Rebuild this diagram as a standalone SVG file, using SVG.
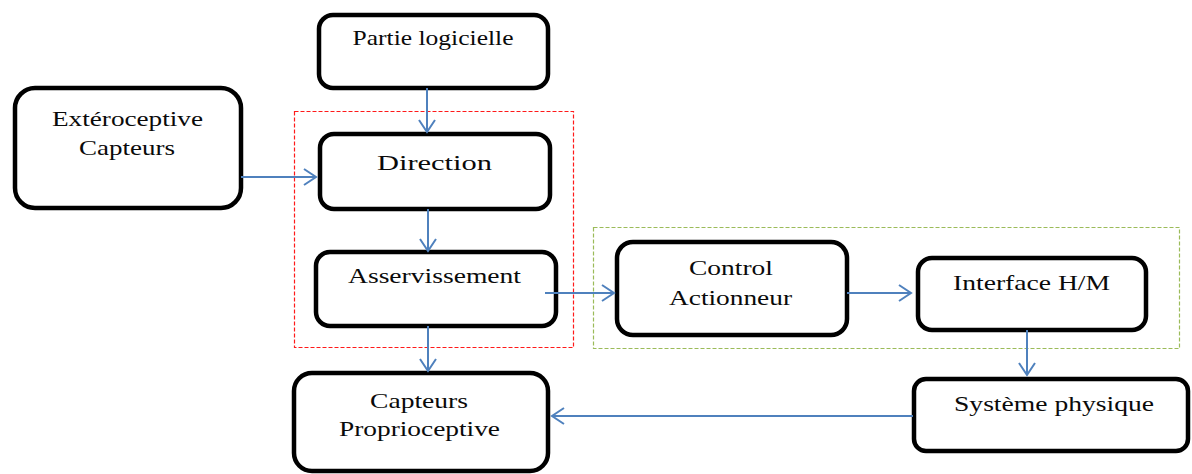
<svg xmlns="http://www.w3.org/2000/svg" width="1192" height="474" viewBox="0 0 1192 474">
<style>
.box{fill:#fff;stroke:#000;stroke-width:4.5}
.lbl{font-family:"Liberation Serif","Times New Roman",serif;font-size:22px;fill:#0a0a0a;text-anchor:middle}
.conn{stroke:#4f81bd;stroke-width:2;fill:none;marker-end:url(#arr)}
.grp-red{fill:none;stroke:#ff1a1a;stroke-width:1.2;stroke-dasharray:4,2}
.grp-green{fill:none;stroke:#9bbb59;stroke-width:1.2;stroke-dasharray:4,2}
</style>
<defs>
<marker id="arr" markerUnits="userSpaceOnUse" markerWidth="20" markerHeight="22" viewBox="-14 -11 16 22" refX="0" refY="0" orient="auto">
<path d="M-12,-8 L0,0 L-12,8" fill="none" stroke="#4f81bd" stroke-width="2"/>
</marker>
</defs>
<rect width="1192" height="474" fill="#fff"/>
<g id="groups">
<rect class="grp-red" x="294.5" y="111.5" width="279" height="236"/>
<rect class="grp-green" x="593.5" y="227.5" width="586" height="121"/>
</g>
<g id="partie">
<rect class="box" x="319" y="15" width="229" height="73" rx="14"/>
<text class="lbl" x="433" y="45" font-size="20" textLength="161" lengthAdjust="spacingAndGlyphs">Partie logicielle</text>
</g>
<g id="exteroceptive">
<rect class="box" x="15" y="88" width="226" height="120" rx="20"/>
<text class="lbl" x="127.5" y="126" textLength="151" lengthAdjust="spacingAndGlyphs">Extéroceptive</text>
<text class="lbl" x="127" y="155" textLength="96" lengthAdjust="spacingAndGlyphs">Capteurs</text>
</g>
<g id="direction">
<rect class="box" x="320" y="134" width="230" height="75" rx="14"/>
<text class="lbl" x="434.5" y="170" font-size="26" textLength="115" lengthAdjust="spacingAndGlyphs">Direction</text>
</g>
<g id="asservissement">
<rect class="box" x="316" y="252" width="240" height="74" rx="14"/>
<text class="lbl" x="434.5" y="283" textLength="173" lengthAdjust="spacingAndGlyphs">Asservissement</text>
</g>
<g id="control">
<rect class="box" x="617" y="242" width="230" height="93" rx="16"/>
<text class="lbl" x="731" y="275" textLength="84" lengthAdjust="spacingAndGlyphs">Control</text>
<text class="lbl" x="730.5" y="305" textLength="123" lengthAdjust="spacingAndGlyphs">Actionneur</text>
</g>
<g id="interface">
<rect class="box" x="918" y="258" width="228" height="72" rx="14"/>
<text class="lbl" x="1031.5" y="290" textLength="157" lengthAdjust="spacingAndGlyphs">Interface H/M</text>
</g>
<g id="systeme">
<rect class="box" x="914" y="379" width="274" height="72" rx="12"/>
<text class="lbl" x="1054" y="411" textLength="200" lengthAdjust="spacingAndGlyphs">Système physique</text>
</g>
<g id="proprioceptive">
<rect class="box" x="294" y="373" width="254" height="98" rx="18"/>
<text class="lbl" x="419" y="408" textLength="98" lengthAdjust="spacingAndGlyphs">Capteurs</text>
<text class="lbl" x="419.5" y="436" textLength="161" lengthAdjust="spacingAndGlyphs">Proprioceptive</text>
</g>
<g id="connectors">
<line class="conn" x1="427" y1="88" x2="427" y2="132"/>
<line class="conn" x1="241" y1="177" x2="316" y2="177"/>
<line class="conn" x1="428" y1="209" x2="428" y2="251"/>
<line class="conn" x1="545" y1="293" x2="614" y2="293"/>
<line class="conn" x1="847" y1="293" x2="911" y2="293"/>
<line class="conn" x1="1027" y1="330" x2="1027" y2="375"/>
<line class="conn" x1="428" y1="326" x2="428" y2="371"/>
<line class="conn" x1="913" y1="416" x2="552" y2="416"/>
</g>
</svg>
